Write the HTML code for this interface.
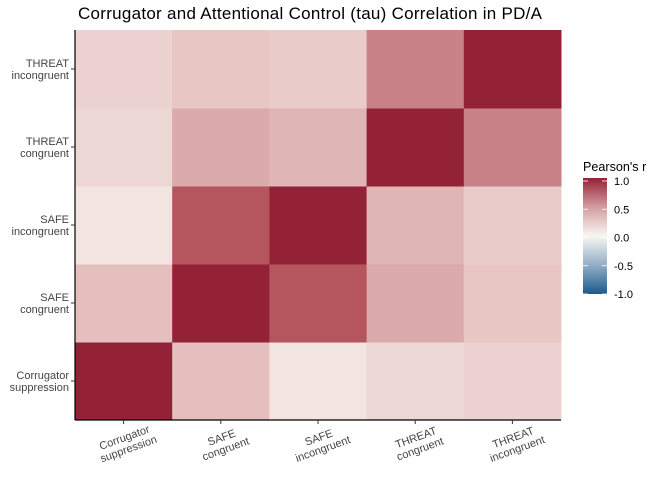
<!DOCTYPE html>
<html><head><meta charset="utf-8"><style>
body{margin:0;background:#fff;font-family:"Liberation Sans",sans-serif;}
svg text{font-family:"Liberation Sans",sans-serif;}
</style></head><body>
<svg id="c" width="672" height="480" xmlns="http://www.w3.org/2000/svg">
<defs><linearGradient id="lg" x1="0" y1="1" x2="0" y2="0">
<stop offset="0" stop-color="#1b5a8a"/><stop offset="0.25" stop-color="#93aec8"/><stop offset="0.5" stop-color="#f8f7f2"/><stop offset="0.75" stop-color="#d39ca0"/><stop offset="1" stop-color="#942236"/>
</linearGradient></defs>
<text x="78" y="19" font-size="17" textLength="464" fill="#000">Corrugator and Attentional Control (tau) Correlation in PD/A</text>
<g id="cells"></g>
<g id="axes"></g>
<g>
<text x="583" y="171" font-size="12.6" fill="#000">Pearson's r</text>
<rect x="583" y="178" width="24" height="116" fill="url(#lg)"/>
<g id="legticks"></g>
</g>
</svg>
<script>
const labels=[["Corrugator","suppression"],["SAFE","congruent"],["SAFE","incongruent"],["THREAT","congruent"],["THREAT","incongruent"]];
const row0=[1,0.30,0.10,0.17,0.19];
const row1=[0.30,1,0.78,0.42,0.26];
const row2=[0.10,0.78,1,0.36,0.23];
const row3=[0.17,0.42,0.36,1,0.60];
const row4=[0.19,0.26,0.23,0.60,1];
const matrix=[row0,row1,row2,row3,row4];
const legendTicks=[1,0.5,0,-0.5,-1];
const legendLabels=["1.0","0.5","0.0","-0.5","-1.0"];
const NS="http://www.w3.org/2000/svg";
const X0=75,X1=561,Y0=30,Y1=420,n=labels.length;
const cw=(X1-X0)/n,ch=(Y1-Y0)/n;
const xPos=i=>X0+i*cw, yPos=j=>Y1-(j+1)*ch;
const stops=[[-1,[27,90,138]],[-0.5,[147,174,200]],[0,[248,247,242]],[0.25,[232,200,198]],[0.5,[211,156,160]],[0.75,[185,92,100]],[1,[148,34,54]]];
function col(v){for(let k=0;k<stops.length-1;k++){const a=stops[k],b=stops[k+1];if(v<=b[0]){const t=(v-a[0])/(b[0]-a[0]);return "rgb("+a[1].map((c,i)=>Math.round(c+(b[1][i]-c)*t)).join(",")+")";}}return "rgb(148,34,54)";}
function mk(t,a,p){const e=document.createElementNS(NS,t);for(const k in a)e.setAttribute(k,a[k]);p.appendChild(e);return e;}
const cells=document.getElementById("cells"),axes=document.getElementById("axes");
for(let j=0;j<n;j++)for(let i=0;i<n;i++){
const r=mk("rect",{x:xPos(i),y:yPos(j),width:cw+0.5,height:ch+0.5,fill:col(matrix[j][i])},cells);

}
const yl=mk("line",{x1:X0,y1:Y0,x2:X0,y2:Y1,stroke:"#000","stroke-width":1.2},axes);


const xl=mk("line",{x1:X0,y1:Y1,x2:X1,y2:Y1,stroke:"#000","stroke-width":1.2},axes);


labels.forEach((l,i)=>{
const cx=xPos(i)+cw/2, cy=yPos(i)+ch/2;
mk("line",{x1:cx,y1:Y1,x2:cx,y2:Y1+4,stroke:"#333"},axes);
mk("line",{x1:X0-4,y1:cy,x2:X0,y2:cy,stroke:"#333"},axes);
const t=mk("text",{x:X0-6,y:cy-2,"text-anchor":"end","font-size":11,fill:"#444"},axes);


mk("tspan",{x:X0-6,dy:0},t).textContent=l[0];
mk("tspan",{x:X0-6,dy:12},t).textContent=l[1];
const tx=mk("text",{transform:`translate(${cx+2},${Y1+21}) rotate(-20)`,"text-anchor":"middle","font-size":11,fill:"#444"},axes);


mk("tspan",{x:0,dy:0},tx).textContent=l[0];
mk("tspan",{x:0,dy:12},tx).textContent=l[1];
});
const lt=document.getElementById("legticks");
legendTicks.forEach((v,k)=>{
const y=294-(v+1)/2*113;
mk("line",{x1:583,y1:y,x2:588,y2:y,stroke:"#fff","stroke-width":0.8},lt);
mk("line",{x1:602,y1:y,x2:607,y2:y,stroke:"#fff","stroke-width":0.8},lt);
const t=mk("text",{x:614,y:y+4,"font-size":11,fill:"#000"},lt);


t.textContent=legendLabels[k];
});
</script>
</body></html>
